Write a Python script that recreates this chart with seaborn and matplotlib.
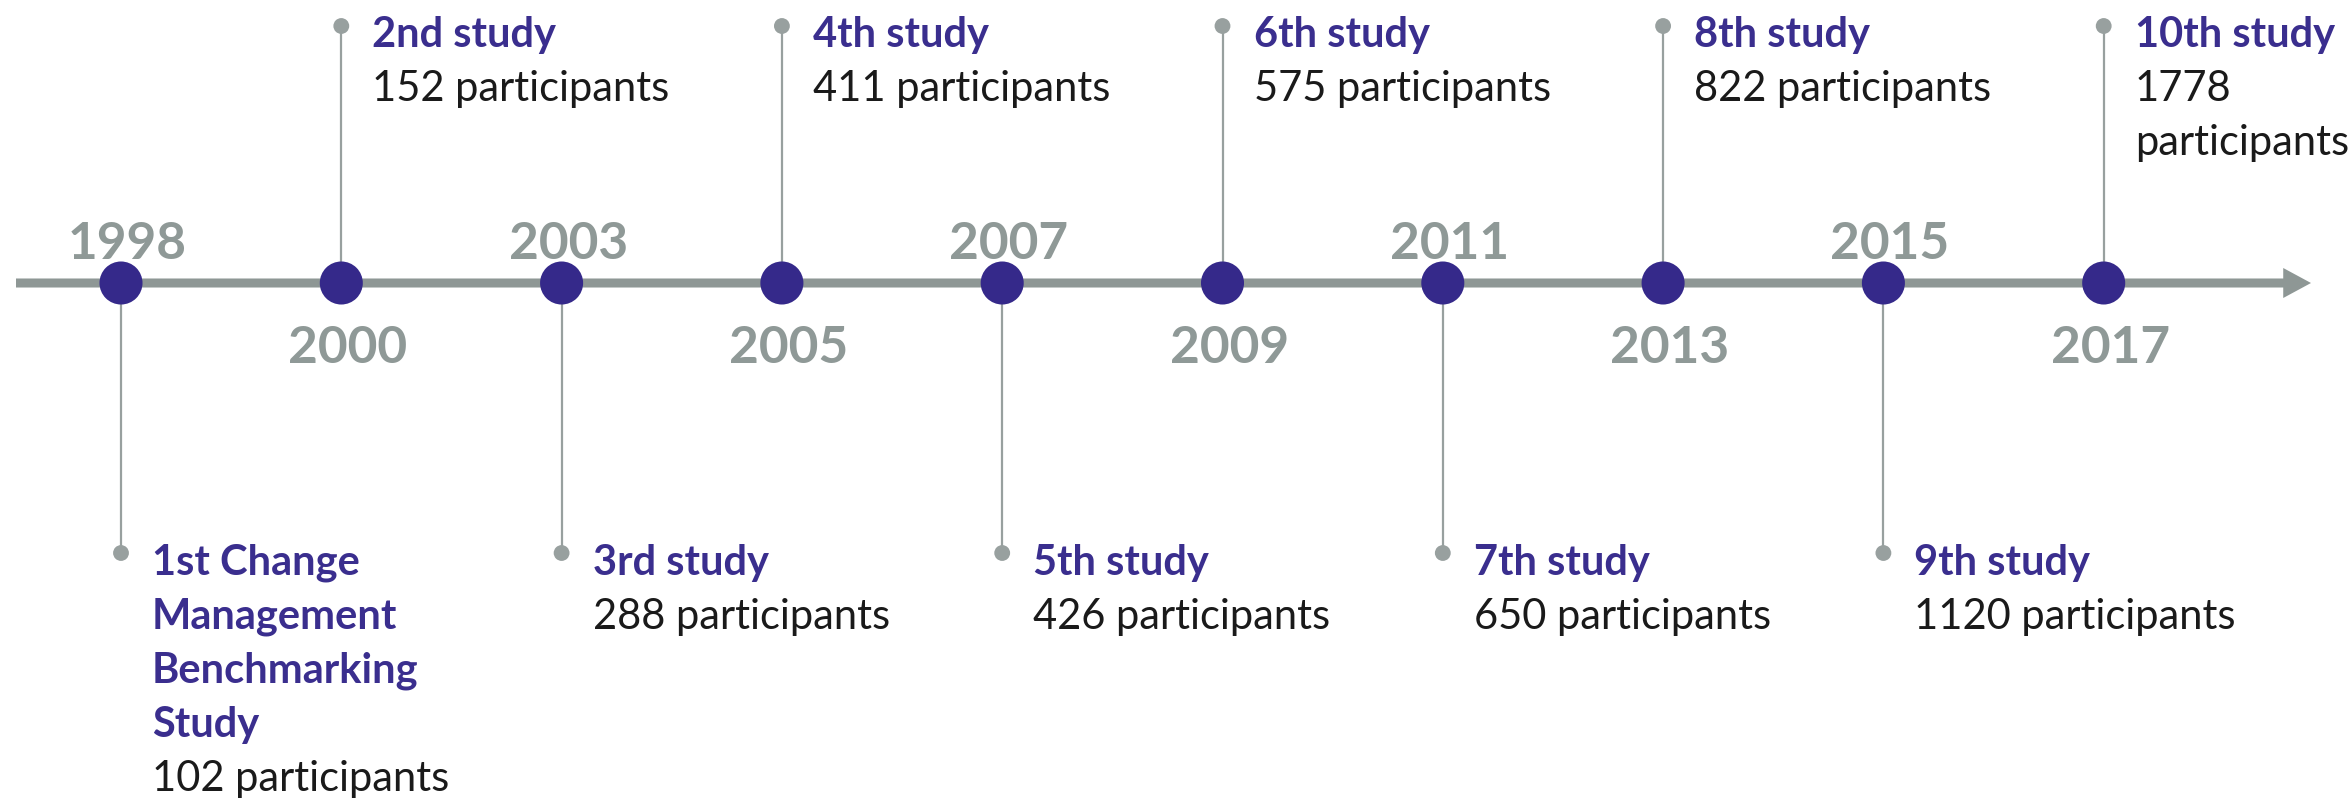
import numpy as np
import pandas as pd
import matplotlib
matplotlib.use("Agg")
import matplotlib.pyplot as plt
import seaborn as sns

# ---- data ----
years = ["1998", "2000", "2003", "2005", "2007", "2009", "2011", "2013", "2015", "2017"]
studies = ["1st Change\nManagement\nBenchmarking\nStudy", "2nd study", "3rd study", "4th study",
           "5th study", "6th study", "7th study", "8th study", "9th study", "10th study"]
participant_labels = ["102 participants", "152 participants", "288 participants", "411 participants",
                      "426 participants", "575 participants", "650 participants", "822 participants",
                      "1120 participants", "1778\nparticipants"]

# ---- style ----
PURPLE_DOT = "#35298A"
PURPLE_TXT = "#3A2E8E"
GREY_LINE = "#8E9795"
GREY_STEM = "#98A09F"
GREY_YEAR = "#8F9997"
BLACK = "#1A1A1A"

sns.set_theme(style="white")
plt.rcParams["font.family"] = ["Lato", "DejaVu Sans"]

W, H = 2349, 804
fig = plt.figure(figsize=(W / 100, H / 100), dpi=100)
fig.patch.set_facecolor("white")
ax = fig.add_axes([0, 0, 1, 1])
X0, DX = 121, 220.3
ax.set_xlim(-X0 / DX, (W - X0) / DX)
ax.set_ylim(H, 0)
ax.axis("off")

AXIS_Y = 284
TOP_Y = 27
BOT_Y = 554

df = pd.DataFrame({"pos": np.arange(len(years)), "year": years,
                   "study": studies, "part": participant_labels})
df["axis_y"] = AXIS_Y
df["up"] = df["pos"] % 2 == 1
df["end_y"] = np.where(df["up"], TOP_Y, BOT_Y)

# timeline arrow
ax.annotate("", xy=((2311 - X0) / DX, AXIS_Y), xytext=((16 - X0) / DX, AXIS_Y),
            arrowprops=dict(arrowstyle="simple,head_length=20,head_width=21.6,tail_width=6.5",
                            color=GREY_LINE, lw=0, shrinkA=0, shrinkB=0, mutation_scale=1),
            zorder=1)

# stems
ax.vlines(df["pos"], df["axis_y"], df["end_y"], color=GREY_STEM, lw=1.6, zorder=2)
sns.scatterplot(data=df, x="pos", y="end_y", s=130, color=GREY_STEM, edgecolor="none",
                ax=ax, zorder=3, legend=False)

# event dots
sns.scatterplot(data=df, x="pos", y="axis_y", s=960, color=PURPLE_DOT, edgecolor="none",
                ax=ax, zorder=4, legend=False)
ax.set_xlim(-X0 / DX, (W - X0) / DX)
ax.set_ylim(H, 0)
ax.axis("off")

STEP = 54
TXT_DX = 31 / DX
for _, r in df.iterrows():
    # year label
    yb = 363 if r["up"] else 259
    ax.text(r["pos"] + 0.03, yb, r["year"], ha="center", va="baseline",
            fontsize=37, fontweight="bold", color=GREY_YEAR)
    # study text
    y0 = 47 if r["up"] else 575
    lines = [(l, True) for l in r["study"].split("\n")] + [(l, False) for l in r["part"].split("\n")]
    for k, (line, bold) in enumerate(lines):
        ax.text(r["pos"] + TXT_DX, y0 + k * STEP, line, ha="left", va="baseline",
                fontsize=30, fontweight="bold" if bold else "normal",
                color=PURPLE_TXT if bold else BLACK)

fig.savefig("out.png", dpi=100, facecolor="white")
